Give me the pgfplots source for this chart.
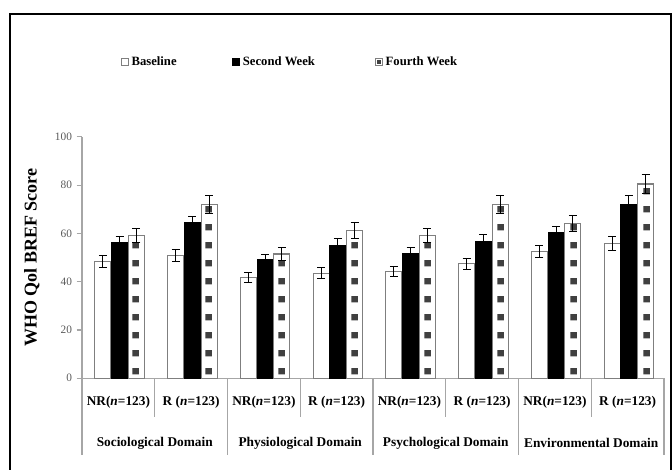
\documentclass[border=0pt]{standalone}
\usepackage{fontspec}
\setmainfont{Liberation Serif}
\usepackage{pgfplots}
\pgfplotsset{compat=1.18}
\usepackage{pgfplotstable}
\usetikzlibrary{patterns}

\pgfdeclarepatternformonly{fwsq}{\pgfpointorigin}{\pgfpoint{54.5625pt}{13.125pt}}{\pgfpoint{54.5625pt}{13.125pt}}{\pgfpathrectangle{\pgfpoint{45.29pt}{6.53pt}}{\pgfpoint{4.9pt}{4.9pt}}\pgfusepath{fill}}

\definecolor{axgray}{HTML}{A6A6A6}
\definecolor{barline}{HTML}{7F7F7F}
\definecolor{sqgray}{HTML}{404040}
\definecolor{ticktext}{HTML}{595959}

\pgfplotstableread{
x b be s se f fe
0 48.3 2.5 56.1 2.5 59.2 3.0
1 50.8 2.6 64.4 2.5 72.0 3.8
2 41.7 2.0 49.0 2.3 51.5 2.6
3 43.5 2.3 55.2 2.8 61.1 3.3
4 44.2 2.0 51.5 2.7 59.2 2.9
5 47.5 2.3 56.6 2.9 72.0 3.8
6 52.4 2.5 60.3 2.8 64.2 3.4
7 55.9 3.0 72.0 3.8 80.5 4.0
}\data

\begin{document}
\begin{tikzpicture}
\path[use as bounding box] (0,0) rectangle (504pt,352.5pt);
\draw[line width=1.5pt] (7.5pt,-10pt) -- (7.5pt,342pt) -- (503.4pt,342pt) -- (503.4pt,-10pt);
\begin{axis}[
  at={(61.5pt,68.8pt)}, anchor=south west,
  scale only axis, width=436.5pt, height=181pt,
  xmin=-0.5, xmax=7.5, ymin=0, ymax=100,
  ytick={0,20,...,100}, xtick=\empty,
  axis x line*=bottom, axis y line*=left,
  axis line style={axgray, line width=0.8pt},
  y tick style={axgray, line width=0.8pt},
  tick align=outside, major tick length=4pt,
  yticklabel style={font=\fontsize{8.5}{10}\selectfont, text=ticktext},
  /pgf/number format/assume math mode=true,
  ylabel={WHO Qol BREF Score},
  ylabel style={at={(axis description cs:-0.086,0.5)}, anchor=center, font=\bfseries\fontsize{13.5}{15}\selectfont},
  clip=false,
  legend style={at={(axis description cs:0.358,1.311)}, anchor=center, draw=none, fill=none,
    font=\bfseries\fontsize{9.5}{11}\selectfont,
    /tikz/column 2/.style={column sep=39.5pt}, /tikz/column 4/.style={column sep=43pt}},
  legend columns=3,
  ybar, bar width=0.22,
]
\addplot[ybar, bar shift=-0.212, fill=white, draw=barline, line width=0.8pt,
  legend image code/.code={\draw[barline, fill=white, line width=0.6pt] (0pt,-2.7pt) rectangle (5.4pt,2.7pt);},
  error bars/.cd, y dir=both, y explicit, error mark=-,
  error bar style={black, line width=0.7pt},
  error mark options={black, mark size=3pt, line width=0.7pt, rotate=90}]
  table[x=x, y=b, y error=be]{\data};
\addlegendentry{Baseline}
\addplot[ybar, bar shift=0.018, fill=black, draw=black, line width=0.8pt,
  legend image code/.code={\fill[black] (0pt,-2.7pt) rectangle (5.4pt,2.7pt);},
  error bars/.cd, y dir=both, y explicit, error mark=-,
  error bar style={black, line width=0.7pt},
  error mark options={black, mark size=3pt, line width=0.7pt, rotate=90}]
  table[x=x, y=s, y error=se]{\data};
\addlegendentry{Second Week}
\addplot[ybar, bar shift=0.248, fill=white, draw=barline, line width=0.8pt,
  postaction={pattern=fwsq, pattern color=sqgray},
  legend image code/.code={\draw[barline, fill=white, line width=0.6pt] (0pt,-2.7pt) rectangle (5.4pt,2.7pt); \fill[sqgray] (1.6pt,-1.1pt) rectangle (3.8pt,1.1pt);},
  error bars/.cd, y dir=both, y explicit, error mark=-,
  error bar style={black, line width=0.7pt},
  error mark options={black, mark size=3pt, line width=0.7pt, rotate=90}]
  table[x=x, y=f, y error=fe]{\data};
\addlegendentry{Fourth Week}

\draw[axgray, line width=0.8pt] (axis cs:-0.5,0) -- ++(0pt,-57.5pt);
\draw[axgray, line width=0.8pt] (axis cs:1.5,0) -- ++(0pt,-57.5pt);
\draw[axgray, line width=0.8pt] (axis cs:3.5,0) -- ++(0pt,-57.5pt);
\draw[axgray, line width=0.8pt] (axis cs:5.5,0) -- ++(0pt,-57.5pt);
\draw[axgray, line width=0.8pt] (axis cs:7.5,0) -- ++(0pt,-57.5pt);
\draw[axgray, line width=0.8pt] (axis cs:0.5,0) -- ++(0pt,-29pt);
\draw[axgray, line width=0.8pt] (axis cs:2.5,0) -- ++(0pt,-29pt);
\draw[axgray, line width=0.8pt] (axis cs:4.5,0) -- ++(0pt,-29pt);
\draw[axgray, line width=0.8pt] (axis cs:6.5,0) -- ++(0pt,-29pt);
\node[font=\bfseries\fontsize{10}{12}\selectfont] at ([yshift=-18pt]axis cs:0,0) {NR(\textit{n}=123)};
\node[font=\bfseries\fontsize{10}{12}\selectfont] at ([yshift=-18pt]axis cs:1,0) {R (\textit{n}=123)};
\node[font=\bfseries\fontsize{10}{12}\selectfont] at ([yshift=-18pt]axis cs:2,0) {NR(\textit{n}=123)};
\node[font=\bfseries\fontsize{10}{12}\selectfont] at ([yshift=-18pt]axis cs:3,0) {R (\textit{n}=123)};
\node[font=\bfseries\fontsize{10}{12}\selectfont] at ([yshift=-18pt]axis cs:4,0) {NR(\textit{n}=123)};
\node[font=\bfseries\fontsize{10}{12}\selectfont] at ([yshift=-18pt]axis cs:5,0) {R (\textit{n}=123)};
\node[font=\bfseries\fontsize{10}{12}\selectfont] at ([yshift=-18pt]axis cs:6,0) {NR(\textit{n}=123)};
\node[font=\bfseries\fontsize{10}{12}\selectfont] at ([yshift=-18pt]axis cs:7,0) {R (\textit{n}=123)};
\node[font=\bfseries\fontsize{10}{12}\selectfont] at ([yshift=-48.5pt]axis cs:0.5,0) {Sociological Domain};
\node[font=\bfseries\fontsize{10}{12}\selectfont] at ([yshift=-48.5pt]axis cs:2.5,0) {Physiological Domain};
\node[font=\bfseries\fontsize{10}{12}\selectfont] at ([yshift=-48.5pt]axis cs:4.5,0) {Psychological Domain};
\node[font=\bfseries\fontsize{10}{12}\selectfont] at ([yshift=-48.5pt]axis cs:6.5,0) {Environmental Domain};
\end{axis}
\end{tikzpicture}
\end{document}
